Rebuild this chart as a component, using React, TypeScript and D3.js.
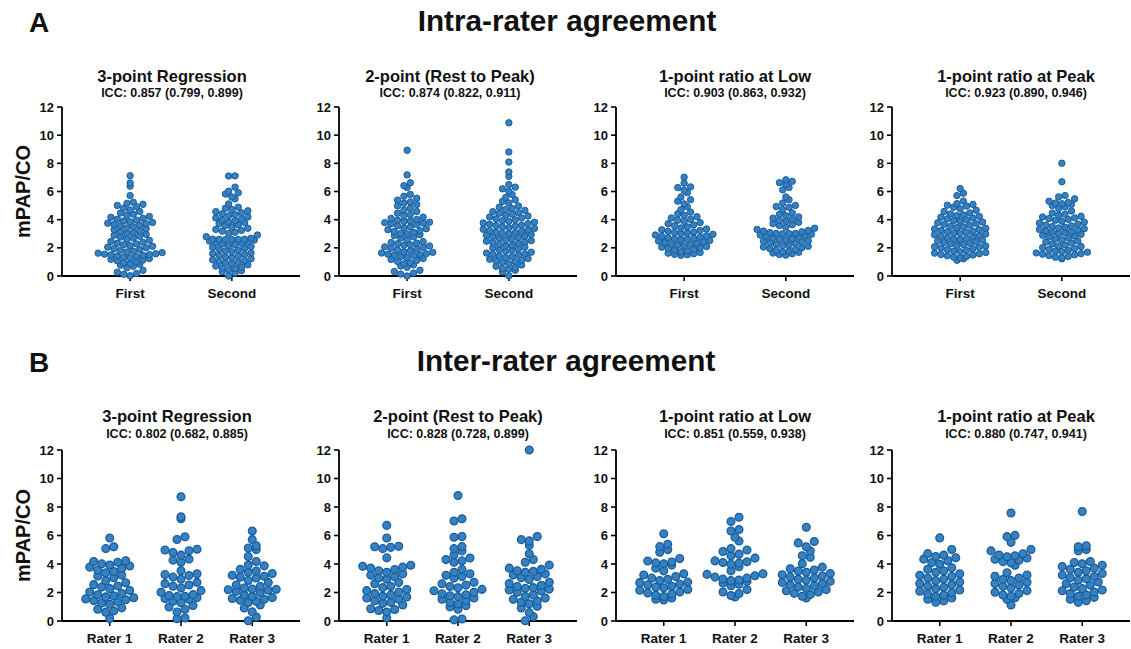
import React from "react";
import * as d3 from "d3";

// ---------- text ----------
const methods = ["3-point Regression", "2-point (Rest to Peak)", "1-point ratio at Low", "1-point ratio at Peak"];
const intraICC = ["ICC: 0.857 (0.799, 0.899)", "ICC: 0.874 (0.822, 0.911)", "ICC: 0.903 (0.863, 0.932)", "ICC: 0.923 (0.890, 0.946)"];
const interICC = ["ICC: 0.802 (0.682, 0.885)", "ICC: 0.828 (0.728, 0.899)", "ICC: 0.851 (0.559, 0.938)", "ICC: 0.880 (0.747, 0.941)"];
const intraGroups = ["First", "Second"];
const interGroups = ["Rater 1", "Rater 2", "Rater 3"];
const yTicks = [0, 2, 4, 6, 8, 10, 12];

// ---------- intra-rater data ----------
const intraRegFirst = [0.02, 0.12, 0.18, 0.27, 0.41, 0.58, 0.69, 0.77, 0.84, 0.88, 0.95, 1.02, 1.08, 1.13, 1.19, 1.24, 1.29, 1.33, 1.38, 1.42, 1.47, 1.5, 1.52, 1.55, 1.58, 1.62, 1.66, 1.71, 1.76, 1.82, 1.88, 1.94, 2.01, 2.05, 2.11, 2.16, 2.22, 2.28, 2.33, 2.39, 2.45, 2.53, 2.61, 2.69, 2.76, 2.83, 2.89, 2.96, 3.02, 3.08, 3.14, 3.21, 3.29, 3.36, 3.42, 3.49, 3.56, 3.61, 3.66, 3.71, 3.75, 3.8, 3.86, 3.91, 3.97, 4.03, 4.1, 4.17, 4.23, 4.31, 4.39, 4.47, 4.58, 4.69, 4.81, 4.92, 5.01, 5.09, 5.16, 5.23, 5.71, 6.38, 6.61, 7.12];
const intraRegSecond = [0.0, 0.21, 0.31, 0.38, 0.45, 0.52, 0.57, 0.63, 0.71, 0.79, 0.86, 0.93, 0.98, 1.04, 1.09, 1.15, 1.22, 1.28, 1.34, 1.41, 1.47, 1.53, 1.59, 1.64, 1.72, 1.78, 1.84, 1.91, 1.97, 2.03, 2.09, 2.16, 2.21, 2.27, 2.33, 2.38, 2.43, 2.48, 2.55, 2.59, 2.6, 2.61, 2.6, 2.62, 2.59, 2.68, 2.79, 2.91, 3.03, 3.11, 3.19, 3.24, 3.31, 3.39, 3.47, 3.58, 3.63, 3.71, 3.79, 3.84, 3.92, 3.98, 4.04, 4.12, 4.19, 4.28, 4.36, 4.42, 4.49, 4.57, 4.63, 4.72, 4.81, 4.89, 5.12, 5.48, 5.61, 5.82, 5.91, 6.02, 6.31, 7.1, 7.11];
const intraTwoFirst = [0.0, 0.14, 0.21, 0.32, 0.41, 0.62, 0.71, 0.79, 0.87, 0.94, 1.03, 1.11, 1.18, 1.24, 1.31, 1.38, 1.45, 1.49, 1.52, 1.55, 1.59, 1.63, 1.68, 1.72, 1.78, 1.83, 1.91, 1.98, 2.02, 2.07, 2.13, 2.18, 2.22, 2.29, 2.34, 2.38, 2.44, 2.58, 2.69, 2.78, 2.87, 2.93, 2.99, 3.03, 3.09, 3.16, 3.22, 3.29, 3.36, 3.41, 3.48, 3.57, 3.66, 3.71, 3.76, 3.79, 3.82, 3.87, 3.91, 3.96, 4.01, 4.09, 4.18, 4.27, 4.36, 4.46, 4.58, 4.69, 4.81, 4.98, 5.08, 5.17, 5.26, 5.39, 5.52, 5.66, 5.79, 6.28, 6.41, 6.62, 7.18, 8.93];
const intraTwoSecond = [0.02, 0.29, 0.41, 0.48, 0.53, 0.61, 0.69, 0.78, 0.88, 0.97, 1.02, 1.07, 1.13, 1.19, 1.24, 1.31, 1.37, 1.43, 1.49, 1.53, 1.58, 1.63, 1.69, 1.76, 1.82, 1.87, 1.93, 1.99, 2.06, 2.14, 2.19, 2.26, 2.31, 2.37, 2.42, 2.47, 2.51, 2.57, 2.62, 2.68, 2.73, 2.78, 2.84, 2.89, 2.94, 2.99, 3.03, 3.08, 3.13, 3.18, 3.22, 3.27, 3.32, 3.38, 3.43, 3.49, 3.53, 3.58, 3.62, 3.67, 3.72, 3.77, 3.82, 3.88, 3.93, 3.99, 4.06, 4.13, 4.19, 4.26, 4.33, 4.39, 4.45, 4.49, 4.57, 4.66, 4.72, 4.79, 4.88, 4.97, 5.19, 5.29, 5.41, 5.58, 5.79, 6.01, 6.19, 6.31, 6.49, 7.08, 7.39, 8.09, 8.81, 10.88];
const intraLowFirst = [1.47, 1.51, 1.54, 1.58, 1.62, 1.67, 1.72, 1.78, 1.83, 1.89, 1.95, 2.01, 2.05, 2.09, 2.14, 2.19, 2.23, 2.28, 2.33, 2.38, 2.43, 2.48, 2.52, 2.56, 2.61, 2.64, 2.68, 2.72, 2.77, 2.81, 2.86, 2.91, 2.96, 2.99, 3.04, 3.09, 3.13, 3.18, 3.23, 3.28, 3.34, 3.41, 3.49, 3.57, 3.63, 3.71, 3.79, 3.88, 3.96, 4.02, 4.12, 4.21, 4.31, 4.42, 4.53, 4.71, 4.92, 5.12, 5.31, 5.42, 5.61, 5.92, 6.08, 6.28, 6.33, 6.59, 7.02];
const intraLowSecond = [1.48, 1.53, 1.58, 1.63, 1.68, 1.72, 1.77, 1.83, 1.88, 1.94, 2.01, 2.06, 2.11, 2.16, 2.21, 2.26, 2.31, 2.36, 2.41, 2.46, 2.51, 2.56, 2.61, 2.66, 2.71, 2.76, 2.81, 2.86, 2.91, 2.96, 3.0, 3.01, 3.02, 3.03, 3.08, 3.14, 3.19, 3.24, 3.31, 3.39, 3.47, 3.58, 3.64, 3.72, 3.81, 3.89, 3.94, 4.02, 4.11, 4.19, 4.28, 4.37, 4.48, 4.71, 4.88, 4.93, 5.01, 5.18, 5.42, 5.61, 6.12, 6.28, 6.52, 6.63, 6.72, 6.83];
const intraPeakFirst = [1.12, 1.22, 1.29, 1.34, 1.39, 1.44, 1.49, 1.53, 1.58, 1.62, 1.67, 1.72, 1.77, 1.82, 1.88, 1.94, 1.99, 2.04, 2.08, 2.13, 2.18, 2.23, 2.28, 2.33, 2.38, 2.43, 2.48, 2.53, 2.58, 2.63, 2.68, 2.73, 2.78, 2.83, 2.88, 2.93, 2.98, 3.02, 3.06, 3.11, 3.15, 3.19, 3.24, 3.29, 3.34, 3.39, 3.44, 3.49, 3.54, 3.61, 3.67, 3.72, 3.78, 3.83, 3.89, 3.94, 3.99, 4.06, 4.12, 4.18, 4.23, 4.29, 4.34, 4.41, 4.48, 4.58, 4.67, 4.78, 4.88, 4.97, 5.03, 5.08, 5.14, 5.32, 5.71, 5.88, 6.21];
const intraPeakSecond = [1.22, 1.29, 1.34, 1.39, 1.45, 1.51, 1.55, 1.59, 1.64, 1.69, 1.73, 1.78, 1.83, 1.89, 1.96, 2.02, 2.09, 2.14, 2.21, 2.28, 2.34, 2.41, 2.48, 2.57, 2.63, 2.71, 2.77, 2.83, 2.89, 2.96, 3.02, 3.07, 3.11, 3.16, 3.21, 3.26, 3.31, 3.36, 3.41, 3.46, 3.51, 3.56, 3.62, 3.68, 3.76, 3.82, 3.89, 3.96, 4.02, 4.08, 4.13, 4.19, 4.24, 4.31, 4.39, 4.47, 4.62, 4.79, 4.91, 5.01, 5.09, 5.13, 5.18, 5.22, 5.31, 5.48, 5.62, 5.71, 6.69, 8.01];

// ---------- inter-rater data ----------
const interRegR1 = [0.18, 0.62, 0.71, 0.83, 0.92, 1.18, 1.26, 1.35, 1.43, 1.49, 1.55, 1.63, 1.69, 1.76, 1.84, 1.93, 2.04, 2.14, 2.27, 2.38, 2.46, 2.55, 2.68, 2.83, 3.04, 3.15, 3.22, 3.38, 3.47, 3.58, 3.69, 3.78, 3.86, 3.93, 4.01, 4.12, 4.18, 4.23, 5.08, 5.21, 5.82];
const interRegR2 = [0.16, 0.21, 0.63, 0.82, 0.98, 1.09, 1.28, 1.39, 1.52, 1.58, 1.64, 1.71, 1.74, 1.79, 1.85, 2.02, 2.13, 2.31, 2.44, 2.53, 2.62, 2.71, 2.93, 3.08, 3.19, 3.26, 3.31, 3.52, 4.12, 4.27, 4.34, 4.62, 4.81, 4.93, 4.98, 5.04, 5.72, 5.91, 7.18, 7.31, 8.72];
const interRegR3 = [0.02, 0.28, 0.64, 0.91, 1.12, 1.29, 1.38, 1.46, 1.53, 1.58, 1.64, 1.72, 1.83, 1.98, 2.09, 2.16, 2.19, 2.22, 2.25, 2.31, 2.42, 2.53, 2.71, 2.84, 3.02, 3.07, 3.14, 3.21, 3.33, 3.42, 3.51, 3.62, 3.87, 3.93, 4.18, 4.52, 5.02, 5.12, 5.28, 5.71, 6.31];
const interTwoR1 = [0.22, 0.63, 0.74, 0.81, 0.86, 1.12, 1.24, 1.31, 1.42, 1.53, 1.61, 1.68, 1.74, 1.83, 1.92, 2.03, 2.13, 2.21, 2.34, 2.43, 2.62, 2.71, 2.93, 3.02, 3.11, 3.22, 3.31, 3.42, 3.52, 3.61, 3.71, 3.78, 3.84, 3.91, 4.43, 5.08, 5.17, 5.21, 5.24, 5.82, 6.71];
const interTwoR2 = [0.08, 0.14, 0.83, 0.99, 1.08, 1.19, 1.31, 1.42, 1.53, 1.62, 1.71, 1.77, 1.84, 1.91, 2.02, 2.12, 2.22, 2.33, 2.42, 2.52, 2.61, 2.72, 3.01, 3.12, 3.21, 3.31, 3.42, 3.61, 4.12, 4.22, 4.31, 4.42, 4.63, 4.92, 5.08, 5.22, 5.88, 5.93, 7.02, 7.18, 8.81];
const interTwoR3 = [0.02, 0.31, 0.59, 0.91, 1.03, 1.21, 1.32, 1.41, 1.52, 1.61, 1.72, 1.83, 2.02, 2.11, 2.18, 2.24, 2.29, 2.34, 2.42, 2.51, 2.63, 2.72, 2.91, 3.03, 3.12, 3.22, 3.31, 3.42, 3.48, 3.53, 3.62, 3.71, 3.92, 4.12, 4.31, 4.72, 5.32, 5.62, 5.71, 5.93, 12.0];
const interLowR1 = [1.48, 1.53, 1.61, 1.72, 1.81, 1.89, 1.96, 2.03, 2.16, 2.21, 2.33, 2.38, 2.44, 2.54, 2.59, 2.69, 2.73, 2.84, 2.92, 3.01, 3.12, 3.23, 3.31, 3.52, 3.71, 3.92, 4.01, 4.08, 4.14, 4.21, 4.38, 4.82, 5.01, 5.22, 5.38, 6.12];
const interLowR2 = [1.68, 1.79, 1.92, 2.04, 2.21, 2.48, 2.58, 2.67, 2.78, 2.83, 2.88, 2.94, 3.02, 3.08, 3.18, 3.27, 3.32, 3.52, 3.81, 3.98, 4.06, 4.11, 4.16, 4.22, 4.41, 4.58, 4.69, 4.88, 4.98, 5.08, 5.61, 5.88, 6.32, 6.41, 6.98, 7.28];
const interLowR3 = [1.62, 1.74, 1.86, 1.94, 2.03, 2.12, 2.21, 2.29, 2.38, 2.46, 2.53, 2.62, 2.71, 2.78, 2.86, 2.93, 3.01, 3.08, 3.16, 3.24, 3.33, 3.42, 3.51, 3.58, 3.67, 3.78, 4.02, 4.48, 4.58, 4.92, 5.21, 5.48, 5.58, 6.58];
const interPeakR1 = [1.32, 1.41, 1.53, 1.62, 1.74, 1.81, 1.89, 1.98, 2.09, 2.18, 2.27, 2.36, 2.44, 2.55, 2.63, 2.74, 2.83, 2.94, 3.02, 3.12, 3.21, 3.31, 3.42, 3.52, 3.63, 3.74, 3.98, 4.11, 4.23, 4.34, 4.44, 4.53, 4.62, 4.73, 5.02, 5.83];
const interPeakR2 = [1.12, 1.52, 1.63, 1.74, 1.82, 1.93, 2.02, 2.13, 2.32, 2.43, 2.52, 2.63, 2.72, 2.83, 2.92, 3.02, 3.14, 3.23, 3.38, 3.91, 4.08, 4.17, 4.26, 4.33, 4.42, 4.51, 4.58, 4.63, 4.72, 4.92, 5.02, 5.52, 5.92, 6.01, 7.58];
const interPeakR3 = [1.31, 1.42, 1.53, 1.66, 1.74, 1.83, 1.92, 2.03, 2.12, 2.18, 2.27, 2.38, 2.52, 2.61, 2.74, 2.86, 2.97, 3.03, 3.12, 3.22, 3.33, 3.42, 3.53, 3.62, 3.71, 3.82, 3.91, 4.02, 4.11, 4.18, 4.92, 5.02, 5.21, 5.28, 7.68];

const intraData = [
  [intraRegFirst, intraRegSecond],
  [intraTwoFirst, intraTwoSecond],
  [intraLowFirst, intraLowSecond],
  [intraPeakFirst, intraPeakSecond],
];
const interData = [
  [interRegR1, interRegR2, interRegR3],
  [interTwoR1, interTwoR2, interTwoR3],
  [interLowR1, interLowR2, interLowR3],
  [interPeakR1, interPeakR2, interPeakR3],
];

// ---------- layout ----------
const W = 1131;
const H = 649;
const FONT = "'Liberation Sans', Arial, Helvetica, sans-serif";
const panelX = [62, 339, 616, 892];
const axisLen = 238;
const titleXTop = [172, 450, 735, 1016];
const titleXBot = [177, 458, 735, 1016];
const FILL = "#3581c1";
const STROKE = "#1a5d9c";

// Prism-like scatter spreading: points binned by height, spread side by side in each bin
function lattice(pys: number[], base: number, h: number, s: number): number[] {
  const xs = new Array(pys.length).fill(0);
  const bins = d3.group(d3.range(pys.length), (i) => Math.floor((base - pys[i]) / h));
  bins.forEach((idxs) => {
    const sorted = idxs.slice().sort((a, b) => pys[b] - pys[a]);
    const n = sorted.length;
    const offs = d3.range(n).map((k) => (k - (n - 1) / 2) * s);
    const posOrder = offs.slice().sort((a, b) => Math.abs(a) - Math.abs(b) || a - b);
    sorted.forEach((idx, k) => {
      xs[idx] = posOrder[k];
    });
  });
  return xs;
}

interface PanelProps {
  x0: number;
  yTop: number;
  yBottom: number;
  groups: string[];
  data: number[][];
  title: string;
  icc: string;
  titleX: number;
  titleY: number;
  iccY: number;
  r: number;
  sw: number;
  binH: number;
  spacing: number;
  pad: number;
  showYLabel: boolean;
}

function Panel(p: PanelProps) {
  const y = d3.scaleLinear().domain([0, 12]).range([p.yBottom, p.yTop]);
  const x = d3.scalePoint<string>().domain(p.groups).range([p.x0, p.x0 + axisLen]).padding(p.pad);
  return (
    <g>
      <text x={p.titleX} y={p.titleY} textAnchor="middle" fontSize={16.5} fontWeight="bold">{p.title}</text>
      <text x={p.titleX} y={p.iccY} textAnchor="middle" fontSize={12.5} fontWeight="bold">{p.icc}</text>
      {p.showYLabel && (
        <text
          transform={`translate(30,${(p.yTop + p.yBottom) / 2}) rotate(-90)`}
          textAnchor="middle"
          fontSize={20}
          fontWeight="bold"
        >
          mPAP/CO
        </text>
      )}
      {/* y axis */}
      <line x1={p.x0} x2={p.x0} y1={y(0)} y2={y(12)} stroke="#000" strokeWidth={1.8} />
      {yTicks.map((t) => (
        <g key={t}>
          <line x1={p.x0 - 5} x2={p.x0} y1={y(t)} y2={y(t)} stroke="#000" strokeWidth={1.6} />
          <text x={p.x0 - 8} y={y(t) + 4.5} textAnchor="end" fontSize={13} fontWeight="bold">{t}</text>
        </g>
      ))}
      {/* x axis */}
      <line x1={p.x0} x2={p.x0 + axisLen} y1={y(0)} y2={y(0)} stroke="#000" strokeWidth={1.8} />
      {p.groups.map((g) => (
        <g key={g}>
          <line x1={x(g)} x2={x(g)} y1={y(0)} y2={y(0) + 5} stroke="#000" strokeWidth={1.6} />
          <text x={x(g)} y={y(0) + 22} textAnchor="middle" fontSize={13.5} fontWeight="bold">{g}</text>
        </g>
      ))}
      {/* swarms */}
      {p.groups.map((g, gi) => {
        const vals = p.data[gi];
        const ys = vals.map((v) => y(v));
        const xs = lattice(ys, y(0), p.binH, p.spacing);
        return (
          <g key={g}>
            {vals.map((v, i) => (
              <circle
                key={i}
                cx={(x(g) as number) + xs[i]}
                cy={ys[i]}
                r={p.r}
                fill={FILL}
                stroke={STROKE}
                strokeWidth={p.sw}
              />
            ))}
          </g>
        );
      })}
    </g>
  );
}

export default function App() {
  return (
    <svg
      width={W}
      height={H}
      viewBox={`0 0 ${W} ${H}`}
      style={{ position: "absolute", left: 0, top: 0, background: "#fff" }}
      fontFamily={FONT}
      fill="#111"
    >
      <rect x={0} y={0} width={W} height={H} fill="#fff" />
      <text x={29} y={32} fontSize={28} fontWeight="bold">A</text>
      <text x={567} y={31} textAnchor="middle" fontSize={29.7} fontWeight="bold">Intra-rater agreement</text>
      <text x={29} y={372} fontSize={28} fontWeight="bold">B</text>
      <text x={566} y={371} textAnchor="middle" fontSize={29.7} fontWeight="bold">Inter-rater agreement</text>
      {methods.map((m, i) => (
        <Panel
          key={"a" + i}
          x0={panelX[i]}
          yTop={107}
          yBottom={276}
          groups={intraGroups}
          data={intraData[i]}
          title={m}
          icc={intraICC[i]}
          titleX={titleXTop[i]}
          titleY={81.5}
          iccY={96.5}
          r={3.2}
          sw={1}
          binH={6}
          spacing={6.4}
          pad={0.67}
          showYLabel={i === 0}
        />
      ))}
      {methods.map((m, i) => (
        <Panel
          key={"b" + i}
          x0={panelX[i]}
          yTop={450}
          yBottom={621}
          groups={interGroups}
          data={interData[i]}
          title={m}
          icc={interICC[i]}
          titleX={titleXBot[i]}
          titleY={421.5}
          iccY={437.5}
          r={3.9}
          sw={1.3}
          binH={8}
          spacing={8}
          pad={0.67}
          showYLabel={i === 0}
        />
      ))}
    </svg>
  );
}
